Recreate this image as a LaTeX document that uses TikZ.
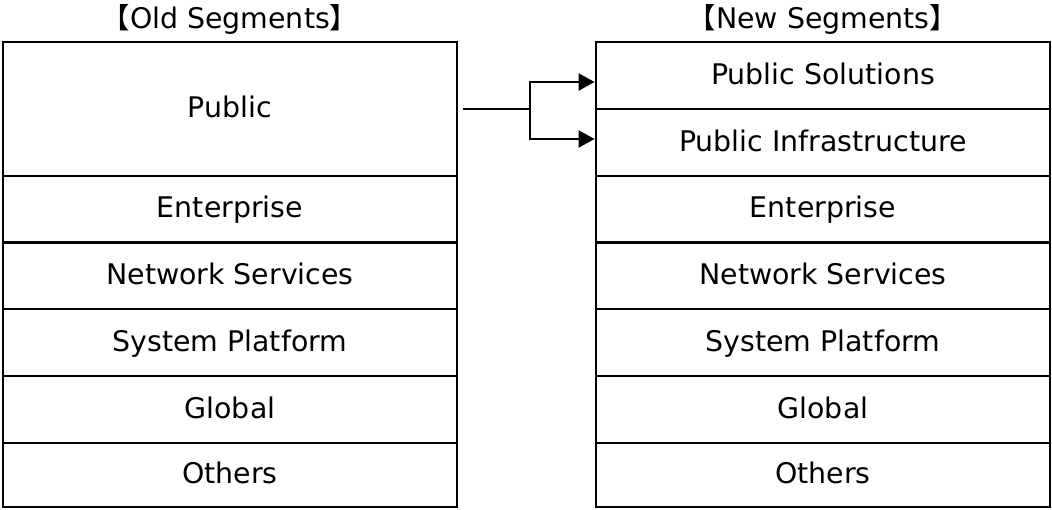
\documentclass[tikz,border=0pt]{standalone}
\usepackage{fontspec}
\setmainfont{DejaVu Sans}
\newfontfamily\cjkfont{Noto Sans CJK JP}
\usetikzlibrary{arrows.meta}
\begin{document}
\begin{tikzpicture}[x=1pt,y=-1pt,
  seg/.style={draw=black,line width=2.8pt,minimum width=454pt,inner sep=0pt,
    text height=21pt,text depth=4pt,font=\fontsize{28.4}{34}\selectfont},
  ttl/.style={anchor=base,inner sep=0pt,font=\fontsize{28.4}{34}\selectfont},
  conn/.style={draw=black,line width=2.2pt},
  arr/.style={conn,-{Triangle[length=16pt,width=17pt]}}]
\useasboundingbox (0,0) rectangle (1052,509);
% titles
\node[ttl] (tl) at (230,28) {{\cjkfont 【}Old Segments{\cjkfont 】}};
\node[ttl] (tr) at (823,28) {{\cjkfont 【}New Segments{\cjkfont 】}};
% left column
\node[seg,minimum height=134pt] (lpub) at (230,109) {Public};
\node[seg,minimum height=66.5pt] (lent) at (230,209.25) {Enterprise};
\node[seg,minimum height=66.5pt] (lnet) at (230,275.75) {Network Services};
\node[seg,minimum height=67pt] (lsys) at (230,342.5) {System Platform};
\node[seg,minimum height=67pt] (lglo) at (230,409.5) {Global};
\node[seg,minimum height=64pt] (loth) at (230,475) {Others};
% right column
\node[seg,minimum height=67pt] (rps) at (823,75.5) {Public Solutions};
\node[seg,minimum height=67pt] (rpi) at (823,142.5) {Public Infrastructure};
\node[seg,minimum height=66.5pt] (rent) at (823,209.25) {Enterprise};
\node[seg,minimum height=66.5pt] (rnet) at (823,275.75) {Network Services};
\node[seg,minimum height=67pt] (rsys) at (823,342.5) {System Platform};
\node[seg,minimum height=67pt] (rglo) at (823,409.5) {Global};
\node[seg,minimum height=64pt] (roth) at (823,475) {Others};
% connectors
\coordinate (j) at (530,109);
\draw[conn] ([xshift=5pt]lpub.east) -- (j);
\draw[arr] (j) |- ([yshift=-6.5pt]rps.west);
\draw[arr] (j) |- ([yshift=3.5pt]rpi.west);
\end{tikzpicture}
\end{document}
